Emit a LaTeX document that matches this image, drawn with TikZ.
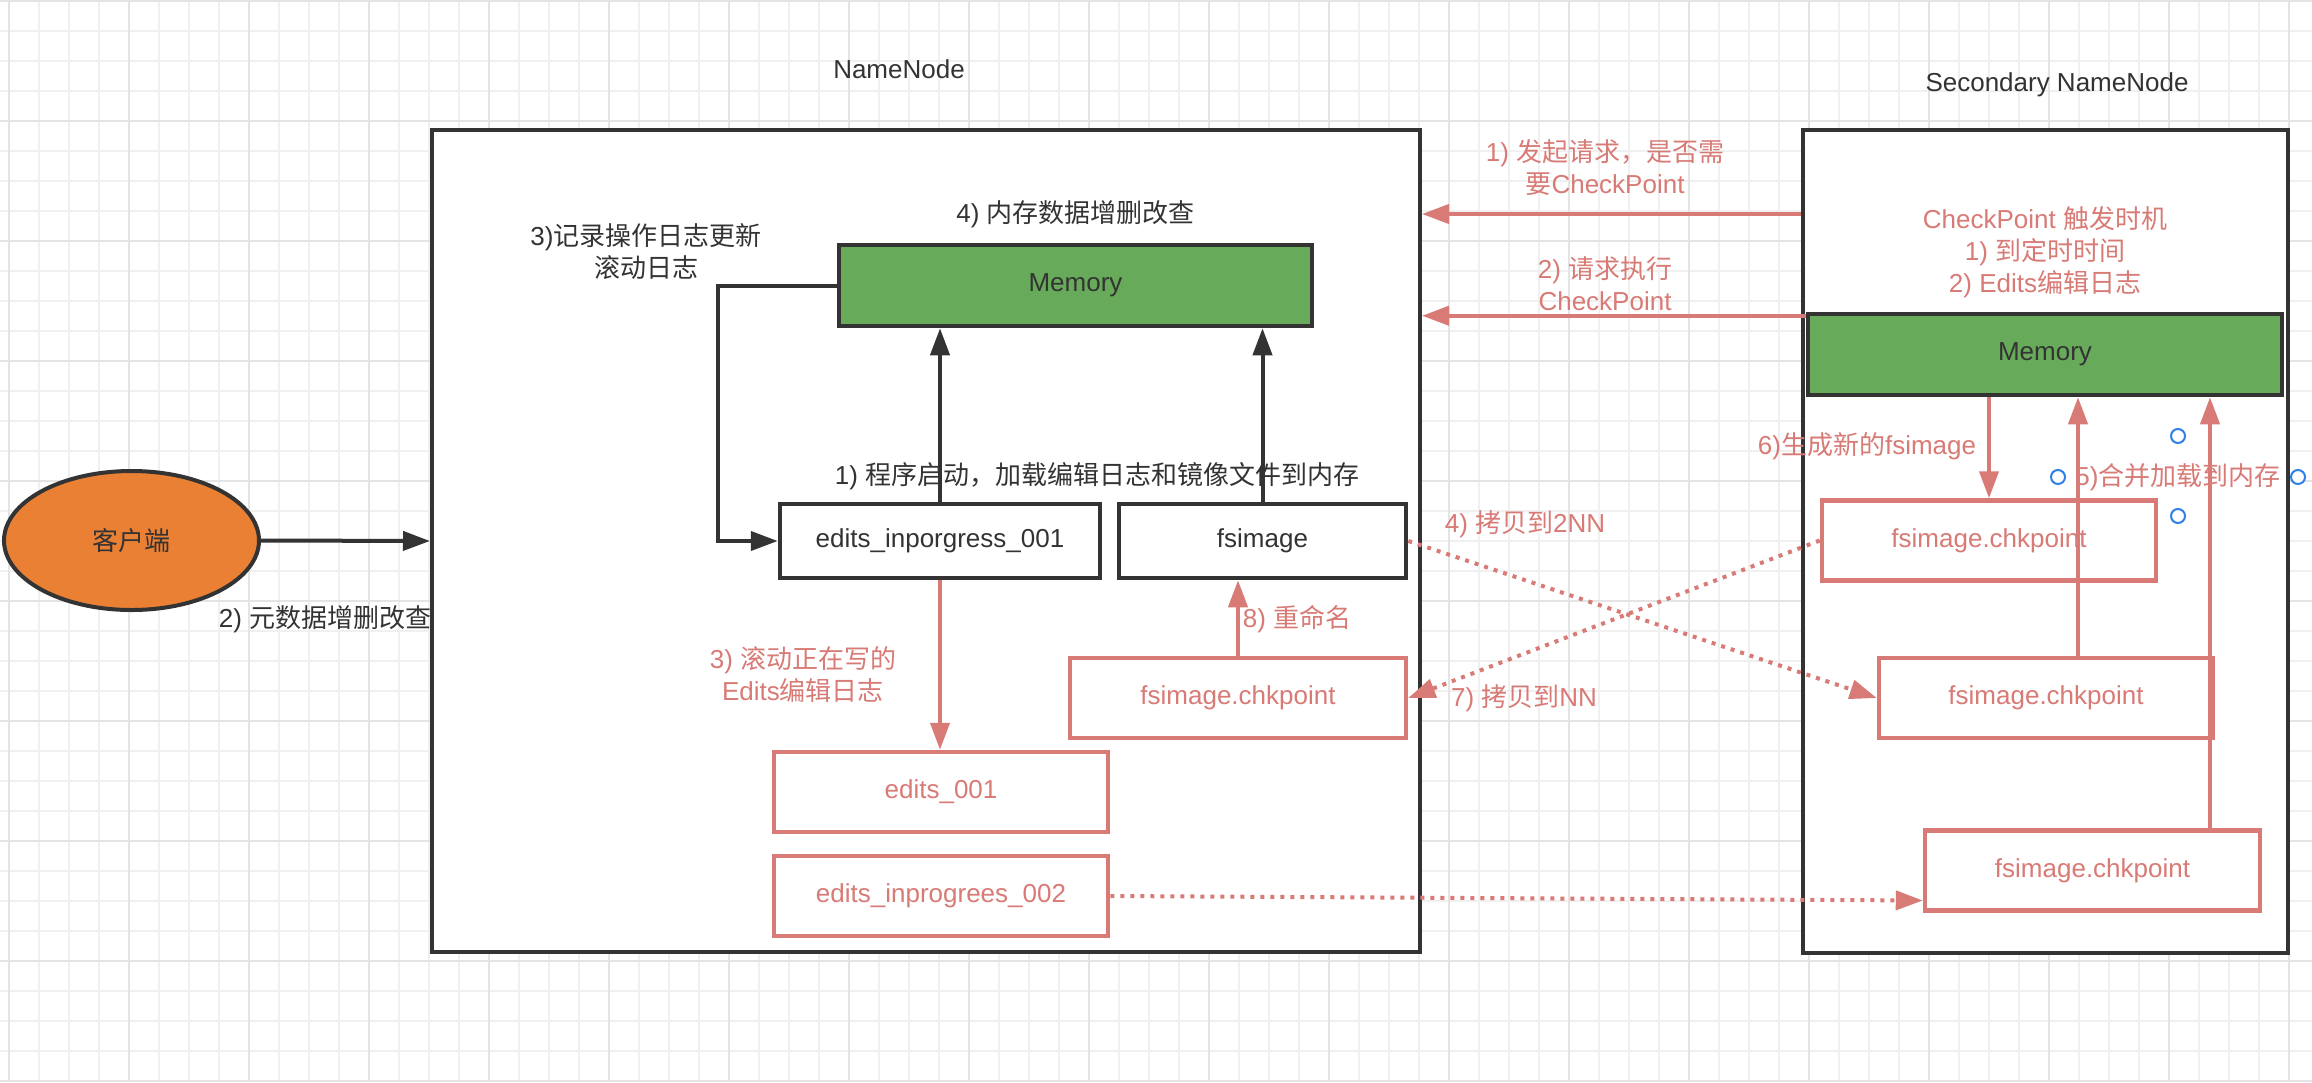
\documentclass[tikz,border=0pt]{standalone}
\usepackage{fontspec}
\setmainfont{Liberation Sans}
\newfontfamily\cjk{Noto Sans CJK SC}
\usetikzlibrary{arrows.meta,shapes.geometric}

\definecolor{nnred}{HTML}{D87A75}
\definecolor{nngreen}{HTML}{67AB5A}
\definecolor{nnorange}{HTML}{E98034}
\definecolor{nndark}{HTML}{333333}
\definecolor{gridminor}{HTML}{F0F0F0}
\definecolor{gridmajor}{HTML}{E4E4E4}
\definecolor{handleblue}{HTML}{2F7FE8}

\begin{document}
\begin{tikzpicture}[x=1pt,y=-1pt,font=\fontsize{26}{32}\selectfont,
    tip/.style={-{Triangle[length=27pt,width=19pt]}},
    dotline/.style={line width=4pt,dash pattern=on 4pt off 6pt}]

        \useasboundingbox (0,0) rectangle (2312,1082);

        % grid
        \foreach \gx in {9,39,...,2312}
          \draw[gridminor,line width=1.7pt] (\gx,0) -- (\gx,1082);
        \foreach \gy in {1,31,...,1082}
          \draw[gridminor,line width=1.7pt] (0,\gy) -- (2312,\gy);
        \foreach \gx in {9,129,...,2312}
          \draw[gridmajor,line width=2pt] (\gx,0) -- (\gx,1082);
        \foreach \gy in {1,121,...,1082}
          \draw[gridmajor,line width=2pt] (0,\gy) -- (2312,\gy);

        \begin{scope}[every node/.style={draw=nndark,line width=4pt,fill=white,inner sep=0pt}]
          \node[minimum width=988pt,minimum height=822pt] (namenode)  at (926,541)      {};
          \node[minimum width=485pt,minimum height=823pt] (secondary) at (2045.5,541.5) {};
        \end{scope}

        \node[ellipse,draw=nndark,line width=4pt,fill=nnorange,text=nndark,
              minimum width=255pt,minimum height=139pt] (client) at (131.5,540.5) {\cjk 客户端};

        \begin{scope}[every node/.style={draw=nndark,line width=4.5pt,fill=white,text=nndark,inner sep=0pt}]
          \node[minimum width=320pt,minimum height=74pt] (editsing) at (940,541)    {edits\_inporgress\_001};
          \node[minimum width=287pt,minimum height=74pt] (fsimg)    at (1262.5,541) {fsimage};
          \node[fill=nngreen,minimum width=473pt,minimum height=81pt] (nnmem)  at (1075.5,285.5) {Memory};
          \node[fill=nngreen,minimum width=474pt,minimum height=81pt] (snnmem) at (2045,354.5)   {Memory};
        \end{scope}

        \begin{scope}[every node/.style={draw=nnred,line width=4.5pt,fill=white,text=nnred,
                      inner sep=0pt,minimum height=80pt}]
          \node[minimum width=336pt] (nnchk)  at (1238,698)     {fsimage.chkpoint};
          \node[minimum width=334pt] (edits1) at (941,792)      {edits\_001};
          \node[minimum width=334pt] (edits2) at (941,896)      {edits\_inprogrees\_002};
          \node[minimum width=334pt] (sfs1)   at (1989,540.5)   {fsimage.chkpoint};
          \node[minimum width=334pt] (sfs2)   at (2046,698)     {fsimage.chkpoint};
          \node[minimum width=335pt] (sfs3)   at (2092.5,870.5) {fsimage.chkpoint};
        \end{scope}

        \begin{scope}[every node/.style={align=center,text=nndark}]
          \node (nnname)   at (899,69)     {NameNode};
          \node (snnname)  at (2057,85)    {Secondary NameNode};
          \node (lblcrud)  at (325,619)    {2) {\cjk 元数据增删改查}};
          \node (lbllog)   at (646,252)    {3){\cjk 记录操作日志更新}\\{\cjk 滚动日志}};
          \node (lblmem)   at (1075.5,214) {4) {\cjk 内存数据增删改查}};
          \node (lblstart) at (1097,476)   {1) {\cjk 程序启动，加载编辑日志和镜像文件到内存}};
        \end{scope}

        \begin{scope}[every node/.style={align=center,text=nnred}]
          \node (lblroll)   at (803,675)   {3) {\cjk 滚动正在写的}\\Edits{\cjk 编辑日志}};
          \node (lblrename) at (1297,619)  {8) {\cjk 重命名}};
          \node (lblto2nn)  at (1525,524)  {4) {\cjk 拷贝到}2NN};
          \node (lbltonn)   at (1524,698)  {7) {\cjk 拷贝到}NN};
          \node (lblask)    at (1605,168)  {1) {\cjk 发起请求，是否需}\\{\cjk 要}CheckPoint};
          \node (lbldo)     at (1605,284)  {2) {\cjk 请求执行}\\CheckPoint};
          \node (lbltrig)   at (2045,252)  {CheckPoint {\cjk 触发时机}\\1) {\cjk 到定时时间}\\2) Edits{\cjk 编辑日志}};
          \node (lblnew)    at (1867,446)  {6){\cjk 生成新的}fsimage};
          \node (lblmerge)  at (2178,477)  {5){\cjk 合并加载到内存}};
        \end{scope}

        \coordinate (ask)    at (secondary.west |- 0,214);
        \coordinate (dorun)  at ([yshift=-4pt]snnmem.north west);
        \coordinate (mergea) at ([xshift=32pt]sfs2.north);
        \coordinate (mergeb) at ([xshift=117.5pt]sfs3.north);

        \begin{scope}[line width=4pt]
          \draw[nndark,tip] (client.east) -- (namenode.west);
          \draw[nndark,tip] (nnmem.west) -- ++(-119,0) |- (editsing.west);
          \draw[nndark,tip] (editsing.north) -- (editsing.north |- nnmem.south);
          \draw[nndark,tip] (fsimg.north) -- (fsimg.north |- nnmem.south);
          \draw[nnred,tip] (editsing.south) -- (editsing.south |- edits1.north);
          \draw[nnred,tip] (nnchk.north) -- (nnchk.north |- fsimg.south);
          \draw[nnred,tip] (ask) -- (ask -| namenode.east);
          \draw[nnred,tip] (dorun) -- (dorun -| namenode.east);
          \draw[nnred,tip] (sfs1.north |- snnmem.south) -- (sfs1.north);
          \draw[nnred,tip] (mergea) -- (mergea |- snnmem.south);
          \draw[nnred,tip] (mergeb) -- (mergeb |- snnmem.south);
          \draw[nnred,dotline,tip] (fsimg.east) -- (sfs2.west);
          \draw[nnred,dotline,tip] (sfs1.west) -- (nnchk.east);
          \draw[nnred,dotline,tip] (edits2.east) -- ([yshift=-30pt]sfs3.west);
        \end{scope}

        \begin{scope}[every node/.style={circle,draw=handleblue,line width=2pt,fill=white,
                      minimum size=14pt,inner sep=0pt}]
          \node (hw) at (2058,477) {};
          \node (he) at (2298,477) {};
          \node (hn) at (2178,436) {};
          \node (hs) at (2178,516) {};
        \end{scope}

      \end{tikzpicture}
\end{document}
